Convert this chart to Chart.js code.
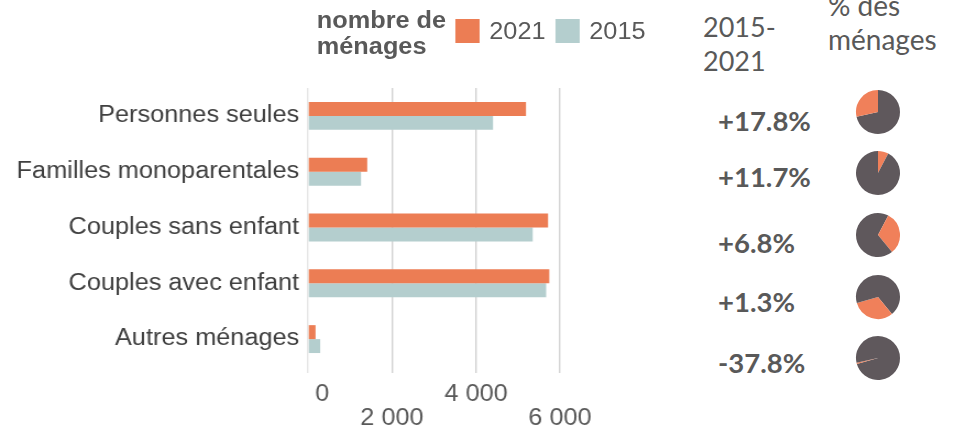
<!DOCTYPE html>
<html>
<head>
<meta charset="utf-8">
<script src="https://cdn.jsdelivr.net/npm/chart.js@4.4.1/dist/chart.umd.min.js"></script>
<style>
  html, body { margin: 0; padding: 0; background: #fff; width: 959px; height: 431px; overflow: hidden; }
  body { position: relative; }
  /* the left block is slightly wide in the original, so stretch it */
  #barWrap { position: absolute; left: 0; top: 0; width: 600px; height: 431px; transform: scaleX(1.1); transform-origin: 0 0; }
  #barWrap canvas { position: absolute; left: 0; top: 0; }
  #legTitle { position: absolute; left: 288px; top: 7px; font: bold 23px "Liberation Sans", Arial, sans-serif; line-height: 26px; color: #595959; }
  .legItem { position: absolute; top: 19px; height: 24px; font: 23px "Liberation Sans", Arial, sans-serif; line-height: 24px; color: #595959; }
  .legItem span { display: inline-block; width: 22.7px; height: 24px; vertical-align: top; margin-right: 8.5px; }
  .head { position: absolute; font: 27px Lato, "Open Sans", sans-serif; color: #595959; }
  .pct { position: absolute; left: 718px; font: bold 27.5px Lato, "Open Sans", sans-serif; line-height: 30px; color: #595959; }
  .pie { position: absolute; }
</style>
</head>
<body>
<div id="barWrap">
  <canvas id="bars" width="600" height="431"></canvas>
  <div id="legTitle">nombre de<br>ménages</div>
</div>
<div class="head" style="left:703px; top:10px; line-height:34px;">2015-<br>2021</div>
<div class="head" style="left:828px; top:-12px; line-height:34px; font-size:28px;">% des<br>ménages</div>

<script>
var categories = ['Personnes seules', 'Familles monoparentales', 'Couples sans enfant', 'Couples avec enfant', 'Autres ménages'];
var seriesNames = ['2021', '2015'];
var values2021 = [5190, 1410, 5715, 5745, 180];
var values2015 = [4405, 1262, 5350, 5670, 290];
var xTicks = [0, 2000, 4000, 6000];
var evolution = ['+17.8%', '+11.7%', '+6.8%', '+1.3%', '-37.8%'];
// order of the slices round the pie, starting at 12 o'clock
var pieOrder = [1, 2, 3, 4, 0];

var orange = '#ec7d54';
var teal = '#b4cece';
var pieGrey = '#5f585c';
var pieOrange = '#f0805a';

function fmt(v) {
  return String(v).replace(/\B(?=(\d{3})+(?!\d))/g, ' ');
}

// legend (html)
var legX = [413.6, 504.5];
var legColors = [orange, teal];
seriesNames.forEach(function (name, i) {
  var d = document.createElement('div');
  d.className = 'legItem';
  d.style.left = legX[i] + 'px';
  d.innerHTML = '<span style="background:' + legColors[i] + '"></span>' + name;
  document.getElementById('barWrap').appendChild(d);
});

new Chart(document.getElementById('bars'), {
  type: 'bar',
  data: {
    labels: categories,
    datasets: [
      { label: seriesNames[0], data: values2021, backgroundColor: orange, categoryPercentage: 0.5, barPercentage: 1 },
      { label: seriesNames[1], data: values2015, backgroundColor: teal, categoryPercentage: 0.5, barPercentage: 1 }
    ]
  },
  options: {
    indexAxis: 'y',
    responsive: false,
    animation: false,
    layout: { padding: { top: 88, right: 90.9, bottom: 3, left: 0 } },
    plugins: { legend: { display: false }, tooltip: { enabled: false } },
    scales: {
      x: {
        min: xTicks[0],
        max: xTicks[xTicks.length - 1],
        afterBuildTicks: function (s) { s.ticks = xTicks.map(function (v) { return { value: v }; }); },
        afterFit: function (s) { s.height = 61; },
        border: { display: false },
        grid: {
          color: function (c) { return c.tick && c.tick.value === 0 ? '#e6e6e6' : '#d2d2d2'; },
          lineWidth: 1.4,
          tickLength: 6
        },
        ticks: {
          padding: 10,
          maxRotation: 0,
          autoSkip: false,
          color: '#595959',
          font: { family: '"Liberation Sans", Arial, sans-serif', size: 23, lineHeight: '24px' },
          callback: function (v, i) {
            if (v === 0) return '    0';
            return i % 2 ? ['', fmt(v)] : fmt(v);
          }
        }
      },
      y: {
        border: { display: false },
        grid: { display: false },
        afterFit: function (s) { s.width = 280; },
        ticks: {
          padding: 0,
          color: '#404040',
          font: { family: '"Liberation Sans", Arial, sans-serif', size: 23 }
        }
      }
    }
  }
});

// evolution labels + share pies
var total = values2021.reduce(function (a, b) { return a + b; }, 0);
var startOf = {};
var acc = 0;
pieOrder.forEach(function (k) { startOf[k] = acc; acc += values2021[k]; });

var rowY = [120.5, 177, 243, 302, 363];
var pieY = [112, 173, 235, 297, 358];

categories.forEach(function (c, i) {
  var t = document.createElement('div');
  t.className = 'pct';
  t.style.top = (rowY[i] - 15) + 'px';
  t.textContent = evolution[i];
  document.body.appendChild(t);

  var cv = document.createElement('canvas');
  cv.className = 'pie';
  cv.width = 46; cv.height = 46;
  cv.style.left = (878 - 23) + 'px';
  cv.style.top = (pieY[i] - 23) + 'px';
  document.body.appendChild(cv);

  var before = startOf[i];
  var share = values2021[i];
  var after = total - before - share;
  new Chart(cv, {
    type: 'pie',
    data: {
      labels: ['', c, ''],
      datasets: [{ data: [before, share, after], backgroundColor: [pieGrey, pieOrange, pieGrey], borderWidth: 0 }]
    },
    options: {
      responsive: false,
      animation: false,
      layout: { padding: 1 },
      plugins: { legend: { display: false }, tooltip: { enabled: false } }
    }
  });
});
</script>
</body>
</html>
